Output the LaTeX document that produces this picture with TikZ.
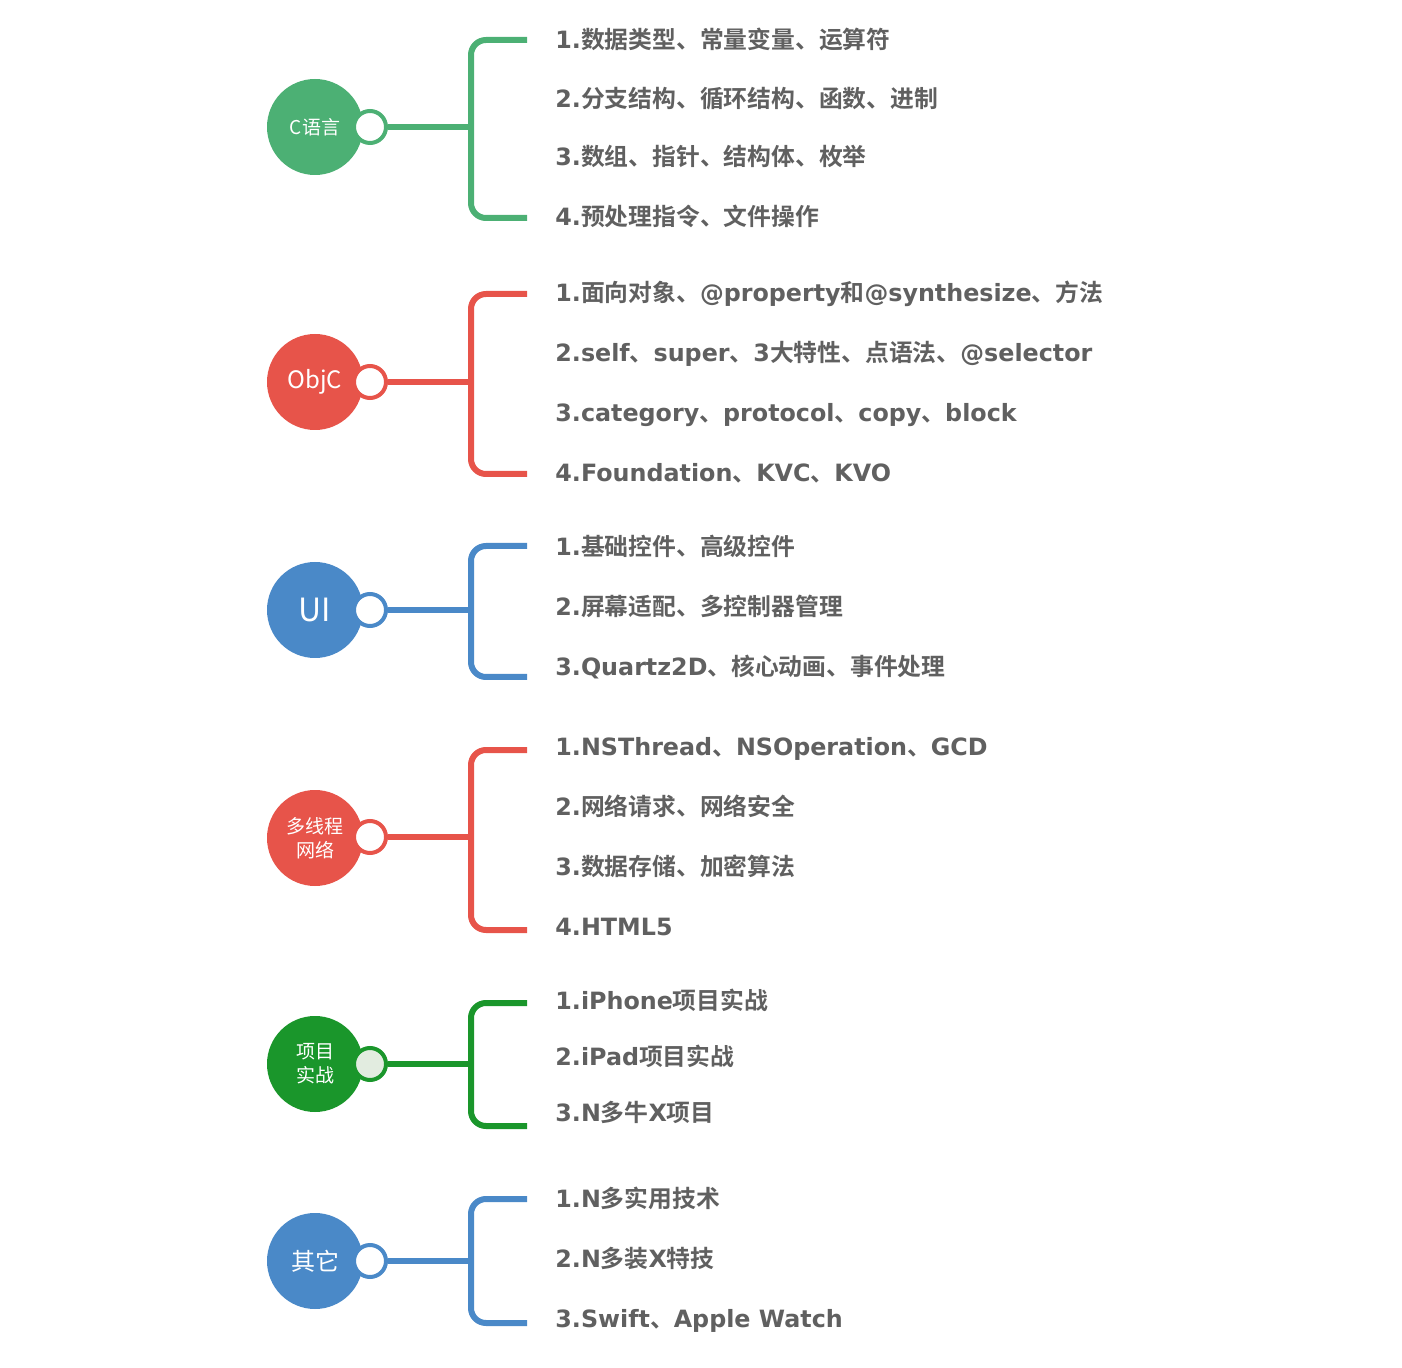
\documentclass[tikz,border=0pt]{standalone}
\usepackage{fontspec}
\setmainfont{DejaVu Sans}
\newfontfamily\zhb{Noto Sans CJK SC Bold}
\newfontfamily\zhr{Noto Sans CJK SC}
\newcommand{\zh}[1]{{\mdseries\zhb #1}}
\usepackage{xcolor}
\definecolor{cgreen}{RGB}{76, 176, 116}
\definecolor{ocred}{RGB}{231, 84, 74}
\definecolor{uiblue}{RGB}{74, 137, 200}
\definecolor{progreen}{RGB}{26, 150, 43}
\definecolor{knobfill}{RGB}{226, 236, 224}
\definecolor{inkgray}{RGB}{96, 96, 96}
\usetikzlibrary{positioning}

\tikzset{
  hub/.style={circle, fill=#1, minimum size=48pt, inner sep=0pt, text=white, align=center},
  knob/.style={circle, draw=#1, line width=2pt, fill=white, minimum size=16pt, inner sep=0pt},
  branch/.style={line width=3pt, draw=#1, rounded corners=7.5pt},
  item/.style={anchor=west, inner sep=0pt, text=inkgray, text height=9pt, text depth=0.2pt,
    font=\bfseries\fontsize{11.9}{14}\selectfont},
  hubsmall/.style={font=\zhr\fontsize{9.5}{12}\selectfont},
  hubbig/.style={font=\zhr\fontsize{12}{14}\selectfont}
}

\begin{document}
\begin{tikzpicture}[x=0.5pt, y=-0.5pt]
    \useasboundingbox (0,0) rectangle (1402,1368);

    % C语言
    \coordinate (t1) at (527,40);
    \coordinate (b1) at (527,218);
    \coordinate (j1) at (471,127);
    \draw[branch=cgreen] (t1) -- ++(-56,0) |- (b1);
    \node[hub=cgreen, hubsmall] (c1) at (315,127) {C语言};
    \node[knob=cgreen] (k1) at (370,127) {};
    \draw[branch=cgreen] (k1) -- (j1);
    \node[item] (i11) at (555,40) {1.\zh{数据类型、常量变量、运算符}};
    \node[item] (i12) at (555,99) {2.\zh{分支结构、循环结构、函数、进制}};
    \node[item] (i13) at (555,157) {3.\zh{数组、指针、结构体、枚举}};
    \node[item] (i14) at (555,217) {4.\zh{预处理指令、文件操作}};

    % ObjC
    \coordinate (t2) at (527,294);
    \coordinate (b2) at (527,474);
    \coordinate (j2) at (471,382);
    \draw[branch=ocred] (t2) -- ++(-56,0) |- (b2);
    \node[hub=ocred, hubbig] (c2) at (315,382) {ObjC};
    \node[knob=ocred] (k2) at (370,382) {};
    \draw[branch=ocred] (k2) -- (j2);
    \node[item] (i21) at (555,293) {1.\zh{面向对象、}@property\zh{和}@synthesize\zh{、方法}};
    \node[item] (i22) at (555,353) {2.self\zh{、}super\zh{、}3\zh{大特性、点语法、}@selector};
    \node[item] (i23) at (555,413) {3.category\zh{、}protocol\zh{、}copy\zh{、}block};
    \node[item] (i24) at (555,473) {4.Foundation\zh{、}KVC\zh{、}KVO};

    % UI
    \coordinate (t3) at (527,546);
    \coordinate (b3) at (527,677);
    \coordinate (j3) at (471,610);
    \draw[branch=uiblue] (t3) -- ++(-56,0) |- (b3);
    \node[hub=uiblue, font=\zhr\fontsize{16}{18}\selectfont] (c3) at (315,610) {UI};
    \node[knob=uiblue] (k3) at (370,610) {};
    \draw[branch=uiblue] (k3) -- (j3);
    \node[item] (i31) at (555,547) {1.\zh{基础控件、高级控件}};
    \node[item] (i32) at (555,607) {2.\zh{屏幕适配、多控制器管理}};
    \node[item] (i33) at (555,667) {3.Quartz2D\zh{、核心动画、事件处理}};

    % 多线程网络
    \coordinate (t4) at (527,750);
    \coordinate (b4) at (527,930);
    \coordinate (j4) at (471,837);
    \draw[branch=ocred] (t4) -- ++(-56,0) |- (b4);
    \node[hub=ocred, hubsmall] (c4) at (315,838) {多线程\\网络};
    \node[knob=ocred] (k4) at (370,837) {};
    \draw[branch=ocred] (k4) -- (j4);
    \node[item] (i41) at (555,747) {1.NSThread\zh{、}NSOperation\zh{、}GCD};
    \node[item] (i42) at (555,807) {2.\zh{网络请求、网络安全}};
    \node[item] (i43) at (555,867) {3.\zh{数据存储、加密算法}};
    \node[item] (i44) at (555,927) {4.HTML5};

    % 项目实战
    \coordinate (t5) at (527,1003);
    \coordinate (b5) at (527,1126);
    \coordinate (j5) at (471,1064);
    \draw[branch=progreen] (t5) -- ++(-56,0) |- (b5);
    \node[hub=progreen, hubsmall] (c5) at (315,1064) {项目\\实战};
    \node[knob=progreen, fill=knobfill] (k5) at (370,1064) {};
    \draw[branch=progreen] (k5) -- (j5);
    \node[item] (i51) at (555,1001) {1.iPhone\zh{项目实战}};
    \node[item] (i52) at (555,1057) {2.iPad\zh{项目实战}};
    \node[item] (i53) at (555,1113) {3.N\zh{多牛}X\zh{项目}};

    % 其它
    \coordinate (t6) at (527,1199);
    \coordinate (b6) at (527,1323);
    \coordinate (j6) at (471,1261);
    \draw[branch=uiblue] (t6) -- ++(-56,0) |- (b6);
    \node[hub=uiblue, hubbig] (c6) at (315,1261) {其它};
    \node[knob=uiblue] (k6) at (370,1261) {};
    \draw[branch=uiblue] (k6) -- (j6);
    \node[item] (i61) at (555,1199) {1.N\zh{多实用技术}};
    \node[item] (i62) at (555,1259) {2.N\zh{多装}X\zh{特技}};
    \node[item] (i63) at (555,1319) {3.Swift\zh{、}Apple Watch};
\end{tikzpicture}
\end{document}
